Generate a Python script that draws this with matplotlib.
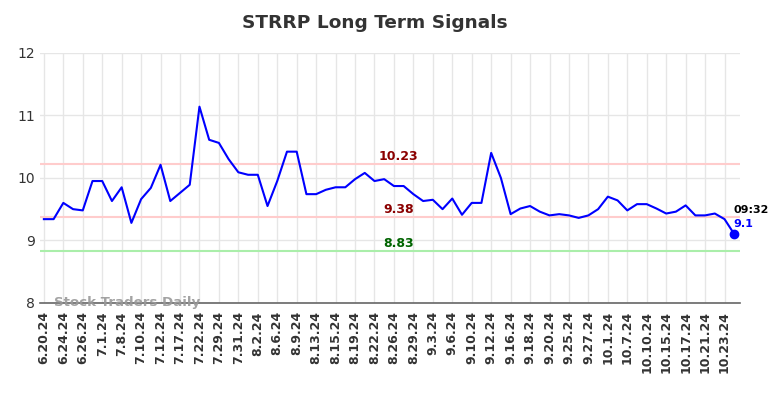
import numpy as np
import matplotlib
matplotlib.use("Agg")
import matplotlib.pyplot as plt

# daily signal values, one per trading day
values = [9.34, 9.34, 9.60, 9.50, 9.48, 9.95, 9.95, 9.63, 9.85, 9.28,
          9.66, 9.84, 10.21, 9.63, 9.76, 9.89, 11.14, 10.61, 10.56, 10.30,
          10.09, 10.05, 10.05, 9.55, 9.95, 10.42, 10.42, 9.74, 9.74, 9.81,
          9.85, 9.85, 9.98, 10.08, 9.95, 9.98, 9.87, 9.87, 9.74, 9.63,
          9.65, 9.50, 9.67, 9.41, 9.60, 9.60, 10.40, 10.00, 9.42, 9.51,
          9.55, 9.46, 9.40, 9.42, 9.40, 9.36, 9.40, 9.50, 9.70, 9.64,
          9.48, 9.58, 9.58, 9.51, 9.43, 9.46, 9.56, 9.40, 9.40, 9.43,
          9.34, 9.10]

tick_labels = ["6.20.24", "6.24.24", "6.26.24", "7.1.24", "7.8.24", "7.10.24",
               "7.12.24", "7.17.24", "7.22.24", "7.29.24", "7.31.24", "8.2.24",
               "8.6.24", "8.9.24", "8.13.24", "8.15.24", "8.19.24", "8.22.24",
               "8.26.24", "8.29.24", "9.3.24", "9.6.24", "9.10.24", "9.12.24",
               "9.16.24", "9.18.24", "9.20.24", "9.25.24", "9.27.24", "10.1.24",
               "10.7.24", "10.10.24", "10.15.24", "10.17.24", "10.21.24", "10.23.24"]

upper = 10.23
middle = 9.38
lower = 8.83
last_time = "09:32"

fig = plt.figure(figsize=(7.84, 3.98), dpi=100)
ax = fig.add_axes([0.051, 0.239, 0.893, 0.628])

x = np.arange(len(values))
ax.axhline(upper, color="#ffcccc", lw=1.5, zorder=1)
ax.axhline(middle, color="#ffcccc", lw=1.5, zorder=1)
ax.axhline(lower, color="#aaeeaa", lw=1.5, zorder=1)
ax.plot(x, values, color="blue", lw=1.5, zorder=3)
ax.plot(x[-1], values[-1], "o", color="blue", ms=6, zorder=4)

mid_x = 36.5
ax.text(mid_x, upper + 0.01, f"{upper:.2f}", color="#8b0000", fontsize=9,
        fontweight="bold", ha="center", va="bottom")
ax.text(mid_x, middle + 0.01, f"{middle:.2f}", color="#8b0000", fontsize=9,
        fontweight="bold", ha="center", va="bottom")
ax.text(mid_x, lower + 0.01, f"{lower:.2f}", color="#006400", fontsize=9,
        fontweight="bold", ha="center", va="bottom")

ax.text(x[-1] - 0.1, values[-1] + 0.38, last_time, color="black", fontsize=8,
        fontweight="bold", ha="left", va="center")
ax.text(x[-1] - 0.1, values[-1] + 0.17, f"{values[-1]:g}", color="blue", fontsize=8,
        fontweight="bold", ha="left", va="center")

ax.text(1, 8.0, "Stock Traders Daily", color="#999999", fontsize=9.6,
        fontweight="bold", ha="left", va="center", alpha=0.9, zorder=5)

ax.set_xlim(-0.4, 71.6)
ax.set_ylim(8, 12)
ax.set_yticks([8, 9, 10, 11, 12])
ax.set_xticks(x[::2][:len(tick_labels)])
ax.set_xticklabels(tick_labels, rotation=90, fontsize=9, fontweight="bold", color="#333333")
ax.tick_params(axis="y", labelsize=10, colors="#333333", length=0)
ax.tick_params(axis="x", length=0, pad=6)
ax.grid(True, color="#e6e6e6", lw=1)
ax.set_axisbelow(True)
for side in ["top", "right", "left"]:
    ax.spines[side].set_visible(False)
ax.spines["bottom"].set_color("#666666")
ax.spines["bottom"].set_linewidth(1.2)

fig.suptitle("STRRP Long Term Signals", x=0.478, y=0.965, fontsize=13.3,
             fontweight="bold", color="#333333")

fig.savefig("out.png", dpi=100)
